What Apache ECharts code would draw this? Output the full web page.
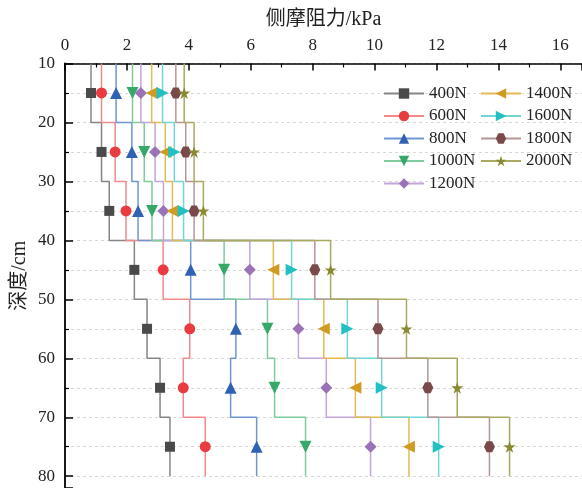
<!DOCTYPE html>
<html>
<head>
<meta charset="utf-8">
<script src="https://cdn.jsdelivr.net/npm/echarts@6/dist/echarts.min.js"></script>
<style>html,body{margin:0;padding:0;background:#fff;}#c{width:582px;height:488px;}</style>
</head>
<body>
<div id="c"></div>
<script>
// Depth segment boundaries (cm) and marker depths (segment mid-points)
var depthBounds = [10, 20, 30, 40, 50, 60, 70, 80];
var markerDepths = [15, 25, 35, 45, 55, 65, 75];
var seriesNames = ['400N','600N','800N','1000N','1200N','1400N','1600N','1800N','2000N'];
// Side friction (kPa) per depth segment
var s400  = [0.84, 1.18, 1.43, 2.24, 2.65, 3.07, 3.39];
var s600  = [1.18, 1.62, 1.97, 3.17, 4.03, 3.82, 4.53];
var s800  = [1.65, 2.16, 2.36, 4.06, 5.52, 5.35, 6.19];
var s1000 = [2.18, 2.56, 2.81, 5.14, 6.54, 6.77, 7.77];
var s1200 = [2.45, 2.91, 3.18, 5.97, 7.54, 8.44, 9.87];
var s1400 = [2.80, 3.24, 3.47, 6.73, 8.36, 9.38, 11.11];
var s1600 = [3.15, 3.53, 3.83, 7.32, 9.12, 10.23, 12.07];
var s1800 = [3.58, 3.90, 4.17, 8.07, 10.11, 11.72, 13.71];
var s2000 = [3.85, 4.17, 4.47, 8.58, 11.03, 12.67, 14.36];
var xTicks = [0, 2, 4, 6, 8, 10, 12, 14, 16];
var yTicks = [10, 20, 30, 40, 50, 60, 70, 80];

var allVals = [s400, s600, s800, s1000, s1200, s1400, s1600, s1800, s2000];
var lineColors = ['#858585','#f28a8a','#7095d2','#7fcb9e','#c3a5d8','#e2bb55','#72d6d6','#b59696','#a9a962'];
var markColors = ['#4a4a4a','#e83c40','#2f62b3','#36a86a','#9a72b7','#d09b22','#22c0c2','#7a4a4b','#8a8a33'];
var symbols = [
  'rect',
  'circle',
  'triangle',
  'path://M0,0 L10,0 L5,9 Z',
  'diamond',
  'path://M0,5 L9,0 L9,10 Z',
  'path://M0,0 L9,5 L0,10 Z',
  'path://M2.5,0 L7.5,0 L10,4.33 L7.5,8.66 L2.5,8.66 L0,4.33 Z',
  'path://M5,0 L6.18,3.82 L10,3.82 L6.91,6.18 L8.09,10 L5,7.64 L1.91,10 L3.09,6.18 L0,3.82 L3.82,3.82 Z'
];
var symSizes = [10, 11, 12, 12, 12, 12, 12, 11, 12];

function buildData(vals) {
  var d = [];
  for (var i = 0; i < vals.length; i++) {
    d.push({value: [vals[i], depthBounds[i]], symbol: 'none'});
    d.push({value: [vals[i], markerDepths[i]]});
    d.push({value: [vals[i], depthBounds[i + 1]], symbol: 'none'});
  }
  return d;
}

var FONT = '"Liberation Serif","Times New Roman","Noto Sans CJK SC",serif';
var series = seriesNames.map(function (n, i) {
  return {
    name: n,
    type: 'line',
    data: buildData(allVals[i]),
    symbol: symbols[i],
    symbolSize: symSizes[i],
    showAllSymbol: true,
    animation: false,
    lineStyle: {color: lineColors[i], width: 1.5},
    itemStyle: {color: markColors[i]},
    z: 2
  };
});

var chart = echarts.init(document.getElementById('c'), null, {renderer: 'canvas'});
chart.setOption({
  backgroundColor: '#fff',
  animation: false,
  grid: {left: 65, top: 63.5, right: 0, bottom: 0, containLabel: false, outerBoundsMode: 'none'},
  legend: [
    {data: seriesNames.slice(0, 5), orient: 'vertical', left: 378, top: 80,
     itemWidth: 40, itemHeight: 13, itemGap: 5.5,
     textStyle: {fontFamily: FONT, fontSize: 17, color: '#222'}},
    {data: seriesNames.slice(5), orient: 'vertical', left: 475, top: 80,
     itemWidth: 40, itemHeight: 13, itemGap: 5.5,
     textStyle: {fontFamily: FONT, fontSize: 17, color: '#222'}}
  ],
  xAxis: {
    type: 'value', position: 'top', min: 0, max: 16.7, interval: 2,
    name: '侧摩阻力/kPa', nameLocation: 'middle', nameGap: 34,
    nameTextStyle: {fontFamily: FONT, fontSize: 20, color: '#222'},
    axisLine: {show: true, lineStyle: {color: '#000', width: 1.5}},
    axisTick: {show: true, inside: true, length: 7, lineStyle: {color: '#000', width: 1.5}},
    minorTick: {show: true, splitNumber: 2, length: 4, lineStyle: {color: '#000', width: 1.2}},
    axisLabel: {showMaxLabel: false, margin: 9, fontFamily: FONT, fontSize: 17, color: '#222',
      formatter: function (v) { return xTicks.indexOf(v) >= 0 ? String(v) : ''; }},
    splitLine: {show: false}
  },
  yAxis: {
    type: 'value', inverse: true, min: 10, max: 82, interval: 10,
    name: '深度/cm', nameLocation: 'middle', nameGap: 35, nameMoveOverlap: false,
    nameTextStyle: {fontFamily: FONT, fontSize: 20, color: '#222'},
    axisLine: {show: true, lineStyle: {color: '#000', width: 1.8}},
    axisTick: {show: true, inside: true, length: 8, lineStyle: {color: '#000', width: 1.5}},
    minorTick: {show: true, splitNumber: 2, length: 4, lineStyle: {color: '#000', width: 1.2}},
    axisLabel: {showMaxLabel: false, margin: 10, fontFamily: FONT, fontSize: 17, color: '#222',
      formatter: function (v) { return yTicks.indexOf(v) >= 0 ? String(v) : ''; }},
    splitLine: {show: true, lineStyle: {color: '#d8d8d8', type: [3, 3], width: 1}},
    minorSplitLine: {show: true, lineStyle: {color: '#d8d8d8', type: [3, 3], width: 1}}
  },
  series: series
});
</script>
</body>
</html>
